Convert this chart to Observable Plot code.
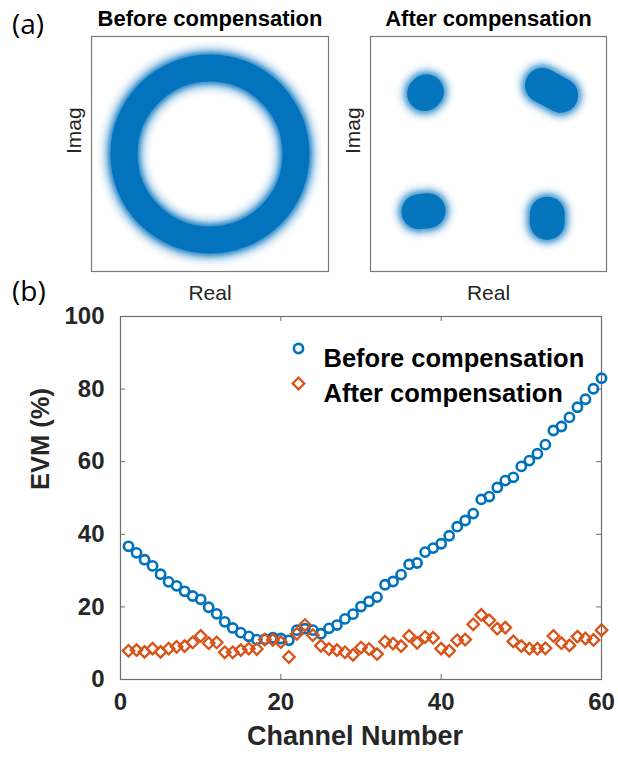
<!DOCTYPE html>
<html><head><meta charset="utf-8">
<script src="https://cdn.jsdelivr.net/npm/d3@7"></script>
<script src="https://cdn.jsdelivr.net/npm/@observablehq/plot@0.6"></script>
<style>
html,body{margin:0;padding:0;background:#fff;}
#wrap{position:relative;width:618px;height:759px;overflow:hidden;background:#fff;}
#wrap svg{position:absolute;left:0;top:0;}
.lbl{position:absolute;font-family:"Open Sans",sans-serif;font-size:28px;line-height:1;color:#000;}
</style></head><body>
<div id="wrap">
  <div class="lbl" style="left:12px;top:9px">(a)</div>
  <div class="lbl" style="left:12px;top:276px">(b)</div>
</div>
<script>
// ---- data ----
const channel = [1,2,3,4,5,6,7,8,9,10,11,12,13,14,15,16,17,18,19,20,21,22,23,24,25,26,27,28,29,30,
  31,32,33,34,35,36,37,38,39,40,41,42,43,44,45,46,47,48,49,50,51,52,53,54,55,56,57,58,59,60];
const evmBefore = [36.7,34.9,33.0,31.3,29.0,26.9,25.8,24.3,23.0,22.1,
  19.9,18.1,15.9,14.2,12.9,11.9,11.0,11.1,11.5,11.3,
  10.8,13.6,14.0,13.6,12.6,14.1,15.0,16.7,18.0,20.1,
  21.5,22.7,26.1,27.0,28.9,31.7,32.1,35.1,36.2,37.4,
  39.6,42.1,43.8,45.7,49.6,50.4,52.9,54.8,55.7,58.7,
  60.3,62.2,64.7,68.6,69.7,72.2,75.0,77.2,80.1,83.0];
const evmAfter = [7.9,8.1,7.6,8.5,7.6,8.5,9.0,9.2,10.2,12.0,
  10.0,10.2,7.5,7.5,8.1,8.5,8.4,11.0,10.9,10.3,
  6.2,12.6,15.0,12.2,9.3,8.4,8.1,7.5,6.8,8.8,
  8.4,7.0,10.4,9.9,9.2,12.0,10.1,11.7,11.5,8.5,
  7.9,10.8,11.0,15.2,17.8,16.3,14.0,14.3,10.5,9.2,
  8.5,8.5,8.6,12.0,10.0,9.4,11.8,11.3,10.9,13.6];
const xTickValues = [0,20,40,60];
const yTickValues = [0,20,40,60,80,100];
const innerXTicks = [20,40];
const innerYTicks = [20,40,60,80];
const seriesLabels = ["Before compensation","After compensation"];
const panelTitles = ["Before compensation","After compensation"];
// constellation: ring centre, QPSK cluster centres & elongation
const ringX = [0], ringY = [0];
const clusterX = [-0.694, 0.694, -0.716, 0.647];
const clusterY = [0.678, 0.705, -0.633, -0.711];
const clusterSpreadX = [0.01, 0.10, 0.05, 0.0];
const clusterSpreadY = [0.01, -0.055, 0.005, 0.045];

// ---- build ----
const blue = "#0072BD", orange = "#D95319";
const W = 618, H = 759;
const FONT = "Liberation Sans, Arial, sans-serif";
const rows = channel.map((c, i) => ({c, before: evmBefore[i], after: evmAfter[i]}));
const ring = ringX.map((x, i) => ({x, y: ringY[i]}));
const clusters = clusterX.map((x, i) => ({
  x1: x - clusterSpreadX[i], y1: clusterY[i] - clusterSpreadY[i],
  x2: x + clusterSpreadX[i], y2: clusterY[i] + clusterSpreadY[i]}));

function panel(ml, mr, title, marks) {
  return Plot.plot({
    width: W, height: H, marginLeft: ml, marginRight: mr, marginTop: 36, marginBottom: 488,
    x: {domain: [-1.3, 1.3], axis: null}, y: {domain: [-1.3, 1.3], axis: null},
    style: {background: "transparent", overflow: "visible"},
    marks: [
      ...marks,
      Plot.frame({stroke: "#7a7a7a", strokeWidth: 1.2}),
      Plot.text([title], {text: d => d, frameAnchor: "top", dy: -11, lineAnchor: "bottom",
        fontFamily: FONT, fontWeight: "bold", fontSize: 22, fill: "#000"}),
      Plot.text(["Real"], {text: d => d, frameAnchor: "bottom", dy: 14, lineAnchor: "top",
        fontFamily: FONT, fontSize: 21, fill: "#262626"}),
      Plot.text(["Imag"], {text: d => d, frameAnchor: "left", dx: -17, rotate: -90,
        fontFamily: FONT, fontSize: 21, fill: "#262626"})
    ]
  });
}

const ringLayers = [[52, 0.05], [46, 0.08], [41, 0.14], [36, 0.28], [31, 0.6], [27, 0.95]];
const ringMarks = ringLayers.map(([sw, op]) =>
  Plot.dot(ring, {x: "x", y: "y", r: 86, fill: "none", stroke: blue, strokeWidth: sw, strokeOpacity: op,
    imageFilter: sw > 30 ? "blur(1.5px)" : undefined}));
const clusterLayers = [[56, 0.05], [50, 0.1], [45, 0.2], [40, 0.45], [35, 0.95]];
const clusterMarks = clusterLayers.map(([sw, op]) =>
  Plot.link(clusters, {x1: "x1", y1: "y1", x2: "x2", y2: "y2", stroke: blue, strokeWidth: sw,
    strokeLinecap: "round", strokeOpacity: op, imageFilter: sw > 36 ? "blur(1.5px)" : undefined}));

const left = panel(91, 290, panelTitles[0], ringMarks);
const right = panel(370, 12, panelTitles[1], clusterMarks);

const axisColor = "#6e6e6e";
const bottom = Plot.plot({
  width: W, height: H, marginLeft: 120, marginRight: 17, marginTop: 316, marginBottom: 80,
  x: {domain: [0, 60]}, y: {domain: [0, 100]},
  style: {background: "transparent", overflow: "visible"},
  marks: [
    Plot.frame({stroke: axisColor, strokeWidth: 1.2}),
    Plot.ruleX(innerXTicks, {x: d => d, insetTop: 358, stroke: axisColor}),
    Plot.ruleX(innerXTicks, {x: d => d, insetBottom: 358, stroke: axisColor}),
    Plot.ruleY(innerYTicks, {y: d => d, insetRight: 476, stroke: axisColor}),
    Plot.ruleY(innerYTicks, {y: d => d, insetLeft: 476, stroke: axisColor}),
    Plot.axisX({ticks: xTickValues, tickSize: 0, tickPadding: 13, label: null,
      fontFamily: FONT, fontSize: 24, fontWeight: "bold", fill: "#262626"}),
    Plot.axisY({ticks: yTickValues, tickSize: 0, tickPadding: 16, label: null,
      fontFamily: FONT, fontSize: 24, fontWeight: "bold", fill: "#262626"}),
    Plot.dot(rows, {x: "c", y: "before", r: 4.6, fill: "none", stroke: blue, strokeWidth: 2.6}),
    Plot.dot(rows, {x: "c", y: "after", symbol: "diamond2", r: 5.2, fill: "none", stroke: orange, strokeWidth: 2.3}),
    Plot.dot([seriesLabels[0]], {frameAnchor: "top-left", dx: 178, dy: 32, r: 4.6, fill: "none", stroke: blue, strokeWidth: 2.6}),
    Plot.dot([seriesLabels[1]], {frameAnchor: "top-left", dx: 178, dy: 67, symbol: "diamond2", r: 5.2, fill: "none", stroke: orange, strokeWidth: 2.3}),
    Plot.text([seriesLabels[0]], {text: d => d, frameAnchor: "top-left", dx: 203, dy: 32, textAnchor: "start",
      fontFamily: FONT, fontSize: 25.5, fontWeight: "bold", fill: "#000"}),
    Plot.text([seriesLabels[1]], {text: d => d, frameAnchor: "top-left", dx: 203, dy: 67, textAnchor: "start",
      fontFamily: FONT, fontSize: 25.5, fontWeight: "bold", fill: "#000"}),
    Plot.text(["Channel Number"], {text: d => d, frameAnchor: "bottom", dx: -6, dy: 46, lineAnchor: "top",
      fontFamily: FONT, fontSize: 27, fontWeight: "bold", fill: "#262626"}),
    Plot.text(["EVM (%)"], {text: d => d, frameAnchor: "left", dx: -80, dy: -8, rotate: -90,
      fontFamily: FONT, fontSize: 25.5, fontWeight: "bold", fill: "#262626"})
  ]
});

const wrap = document.getElementById("wrap");
wrap.appendChild(left);
wrap.appendChild(right);
wrap.appendChild(bottom);
</script>
</body></html>
